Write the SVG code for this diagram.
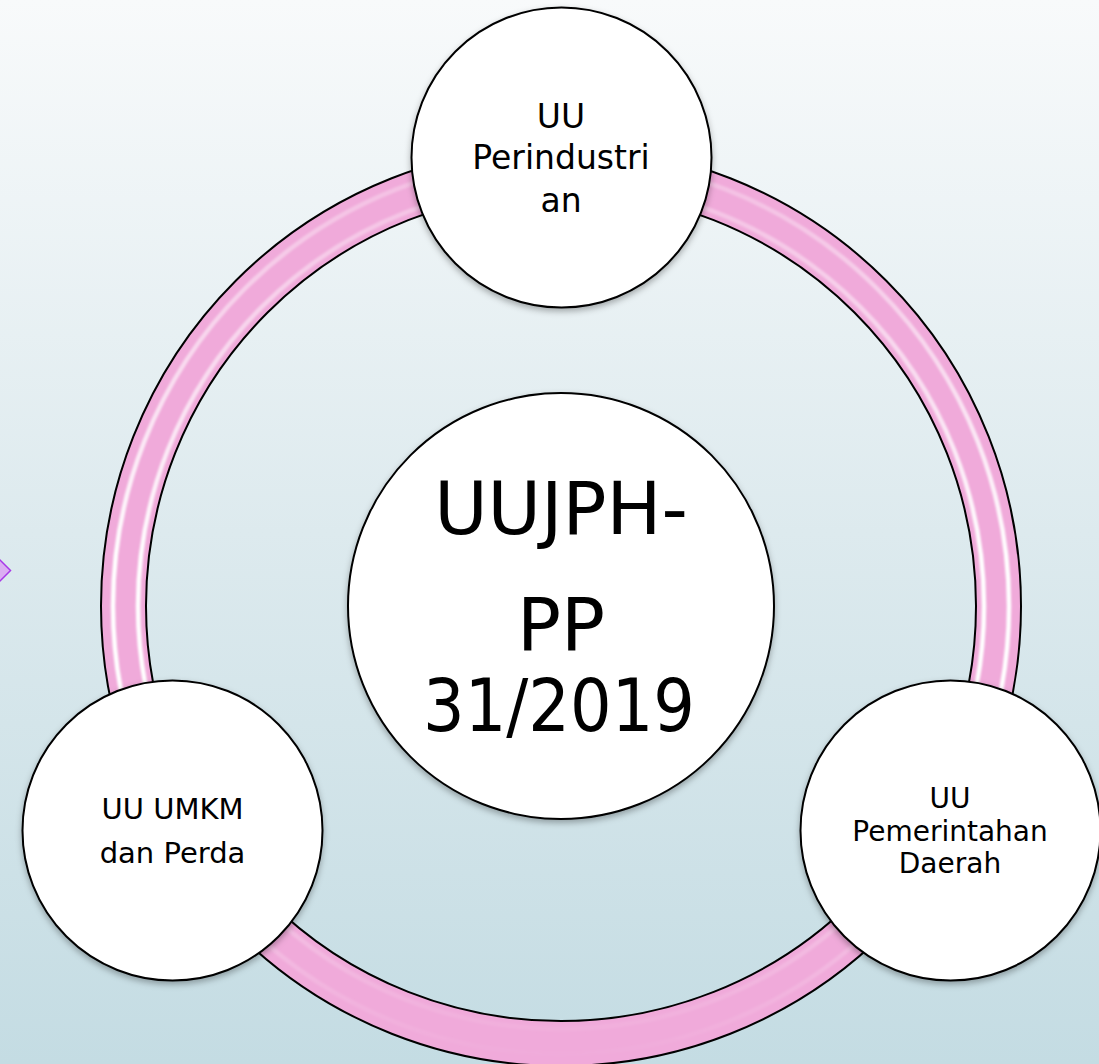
<svg xmlns="http://www.w3.org/2000/svg" width="1099" height="1064" viewBox="0 0 1099 1064">
  <defs>
    <linearGradient id="bg" x1="0" y1="0" x2="0" y2="1">
      <stop offset="0" stop-color="#F8FAFB"/>
      <stop offset="0.5" stop-color="#DDEAEE"/>
      <stop offset="1" stop-color="#C4DCE3"/>
    </linearGradient>
    <linearGradient id="hl" x1="0" y1="145" x2="0" y2="1066" gradientUnits="userSpaceOnUse">
      <stop offset="0" stop-color="#FFFFFF" stop-opacity="0.2"/>
      <stop offset="0.25" stop-color="#FFFFFF" stop-opacity="0.6"/>
      <stop offset="0.45" stop-color="#FFFFFF" stop-opacity="1"/>
      <stop offset="0.62" stop-color="#FFFFFF" stop-opacity="1"/>
      <stop offset="0.8" stop-color="#FFFFFF" stop-opacity="0.3"/>
      <stop offset="1" stop-color="#FFFFFF" stop-opacity="0"/>
    </linearGradient>
    <filter id="shadow" x="-10%" y="-10%" width="120%" height="125%">
      <feDropShadow dx="0" dy="3" stdDeviation="3" flood-color="#000000" flood-opacity="0.3"/>
    </filter>
    <filter id="soft" x="-5%" y="-5%" width="110%" height="110%">
      <feGaussianBlur stdDeviation="1"/>
    </filter>
  </defs>
  <style>
    .node { fill: #FFFFFF; stroke: #000000; stroke-width: 2; filter: url(#shadow); }
    .lbl { font-family: "DejaVu Sans", "Noto Sans", sans-serif; fill: #000000; text-anchor: middle; }
  </style>

  <rect x="0" y="0" width="1099" height="1064" fill="url(#bg)"/>

  <polygon points="-10.5,570.5 0,560 10.5,570.5 0,581" fill="#DBAEF2" stroke="#A838E8" stroke-width="1.5"/>

  <g id="connectors">
    <g id="ring">
      <circle cx="561" cy="606" r="437.5" fill="none" stroke="#000000" stroke-width="47"/>
      <circle cx="561" cy="606" r="437.5" fill="none" stroke="#F0AADA" stroke-width="43"/>
      <g filter="url(#soft)">
        <circle cx="561" cy="606" r="448" fill="none" stroke="url(#hl)" stroke-width="4.5"/>
        <circle cx="561" cy="606" r="423" fill="none" stroke="url(#hl)" stroke-width="4.5"/>
      </g>
    </g>
  </g>

  <g id="node-center">
    <circle class="node" cx="561" cy="606" r="213"/>
    <text class="lbl" font-size="73" x="561" y="534">UUJPH-</text>
    <text class="lbl" font-size="73" x="561" y="650">PP</text>
    <text class="lbl" font-size="73" x="559" y="731" textLength="272" lengthAdjust="spacingAndGlyphs">31/2019</text>
  </g>

  <g id="node-top">
    <circle class="node" cx="561.5" cy="157.5" r="150"/>
    <text class="lbl" font-size="33" x="561" y="128">UU</text>
    <text class="lbl" font-size="33" x="561" y="169">Perindustri</text>
    <text class="lbl" font-size="33" x="561" y="212">an</text>
  </g>

  <g id="node-left">
    <circle class="node" cx="172.5" cy="830.5" r="150"/>
    <text class="lbl" font-size="29" x="172.5" y="819">UU UMKM</text>
    <text class="lbl" font-size="29" x="172.5" y="863">dan Perda</text>
  </g>

  <g id="node-right">
    <circle class="node" cx="950.5" cy="830.5" r="150"/>
    <text class="lbl" font-size="28" x="950" y="808">UU</text>
    <text class="lbl" font-size="28" x="950" y="841">Pemerintahan</text>
    <text class="lbl" font-size="28" x="950" y="873">Daerah</text>
  </g>
</svg>
